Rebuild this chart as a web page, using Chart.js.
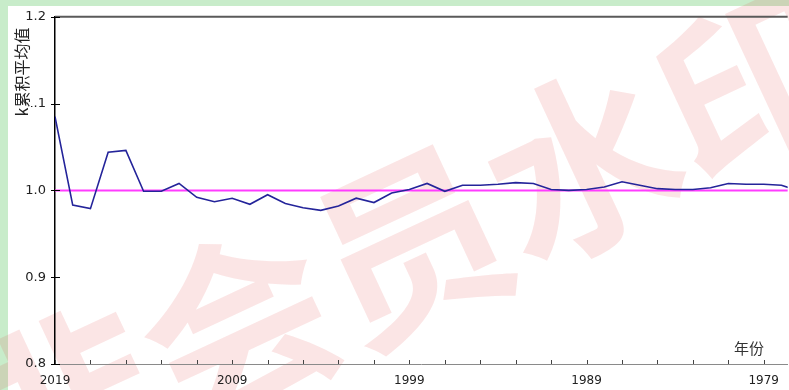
<!DOCTYPE html>
<html>
<head>
<meta charset="utf-8">
<script src="https://cdn.jsdelivr.net/npm/chart.js@4/dist/chart.umd.min.js"></script>
<style>
  html, body { margin: 0; padding: 0; background: #c8ecca; }
  #wrap { width: 789px; height: 390px; }
</style>
</head>
<body>
<div id="wrap"><canvas id="c" width="789" height="390"></canvas></div>
<script>
// Years plotted from right-to-left (newest first)
const YEARS = [2019, 2018, 2017, 2016, 2015, 2014, 2013, 2012, 2011, 2010,
               2009, 2008, 2007, 2006, 2005, 2004, 2003, 2002, 2001, 2000,
               1999, 1998, 1997, 1996, 1995, 1994, 1993, 1992, 1991, 1990,
               1989, 1988, 1987, 1986, 1985, 1984, 1983, 1982, 1981, 1980,
               1979, 1978, 1977];

// Cumulative mean of k for each year
const CUM_MEAN = [1.085, 0.983, 0.979, 1.044, 1.046, 0.999, 0.999, 1.008, 0.992, 0.987,
                  0.991, 0.984, 0.995, 0.985, 0.980, 0.977, 0.982, 0.991, 0.986, 0.997,
                  1.001, 1.008, 0.999, 1.006, 1.006, 1.007, 1.009, 1.008, 1.001, 1.000,
                  1.001, 1.004, 1.010, 1.006, 1.002, 1.001, 1.001, 1.003, 1.008, 1.007,
                  1.007, 1.006, 0.999];

// Tick marks every two years, labels every ten
const TICK_YEARS = [2019, 2017, 2015, 2013, 2011, 2009, 2007, 2005, 2003, 2001,
                    1999, 1997, 1995, 1993, 1991, 1989, 1987, 1985, 1983, 1981, 1979];
const LABEL_YEARS = [2019, 2009, 1999, 1989, 1979];

const Y_TICKS = [0.8, 0.9, 1.0, 1.1, 1.2];
const REFERENCE_LEVEL = 1.0;

const X_MAX = 2019;
const X_MIN = 1977.65;

const Y_TITLE = 'k累积平均值';
const X_TITLE = '年份';
const WATERMARK = '非会员水印';

const pagePlugin = {
  id: 'page',
  beforeDraw(chart) {
    const ctx = chart.ctx;
    ctx.save();
    ctx.fillStyle = '#c8ecca';
    ctx.fillRect(0, 0, chart.width, chart.height);
    ctx.fillStyle = '#ffffff';
    ctx.fillRect(8, 6, chart.width - 8, chart.height - 6);
    // faint diagonal watermark
    ctx.translate(410, 245);
    ctx.rotate(-25 * Math.PI / 180);
    ctx.font = 'bold 190px "Noto Sans CJK SC"';
    ctx.fillStyle = 'rgba(225, 70, 70, 0.14)';
    ctx.textAlign = 'center';
    ctx.textBaseline = 'middle';
    ctx.fillText(WATERMARK, 0, 0);
    ctx.restore();
  },
  beforeDatasetsDraw(chart) {
    const ctx = chart.ctx;
    const { left, right } = chart.chartArea;
    const y = chart.scales.y.getPixelForValue(REFERENCE_LEVEL);
    ctx.save();
    ctx.strokeStyle = '#ff3cff';
    ctx.lineWidth = 2;
    ctx.beginPath();
    ctx.moveTo(left, y);
    ctx.lineTo(right, y);
    ctx.stroke();
    ctx.restore();
  },
  afterDraw(chart) {
    const ctx = chart.ctx;
    const { left, right, top, bottom } = chart.chartArea;
    const xs = chart.scales.x, ys = chart.scales.y;
    ctx.save();
    // frame top edge
    ctx.strokeStyle = '#5a5a5a';
    ctx.lineWidth = 2;
    ctx.beginPath();
    ctx.moveTo(left, top);
    ctx.lineTo(right, top);
    ctx.stroke();
    // x tick marks pointing inward
    ctx.strokeStyle = '#444';
    ctx.lineWidth = 1;
    ctx.beginPath();
    xs.ticks.forEach(t => {
      const x = Math.round(xs.getPixelForValue(t.value)) + 0.5;
      ctx.moveTo(x, bottom - 4);
      ctx.lineTo(x, bottom);
    });
    ctx.stroke();
    // y tick marks across the axis
    ctx.strokeStyle = '#000';
    ctx.beginPath();
    ys.ticks.forEach(t => {
      const y = Math.round(ys.getPixelForValue(t.value)) + 0.5;
      ctx.moveTo(left - 4, y);
      ctx.lineTo(left + 5, y);
    });
    ctx.stroke();
    // y axis title, rotated
    ctx.fillStyle = '#ffffff';
    ctx.fillRect(13, 26, 18, 93);
    ctx.translate(22, 72);
    ctx.rotate(-Math.PI / 2);
    ctx.font = '16px "Noto Sans CJK SC"';
    ctx.fillStyle = '#222';
    ctx.textAlign = 'center';
    ctx.textBaseline = 'middle';
    ctx.fillText(Y_TITLE, 0, 0);
    ctx.restore();
    // x axis title
    ctx.save();
    ctx.font = '15px "Noto Sans CJK SC"';
    ctx.fillStyle = '#333';
    ctx.textAlign = 'center';
    ctx.textBaseline = 'middle';
    ctx.fillText(X_TITLE, 749, 348);
    ctx.restore();
  }
};

new Chart(document.getElementById('c'), {
  type: 'line',
  data: {
    datasets: [{
      data: YEARS.map((yr, i) => ({ x: yr, y: CUM_MEAN[i] })),
      borderColor: '#24249a',
      borderWidth: 1.6,
      pointRadius: 0,
      tension: 0,
      fill: false
    }]
  },
  options: {
    responsive: false,
    animation: false,
    devicePixelRatio: 1,
    layout: { padding: { top: 16, left: 0, right: 0, bottom: 0 } },
    plugins: { legend: { display: false }, tooltip: { enabled: false } },
    scales: {
      x: {
        type: 'linear',
        reverse: true,
        min: X_MIN,
        max: X_MAX,
        grid: { display: false, drawTicks: false },
        border: { display: true, color: '#8a8a8a', width: 1 },
        afterBuildTicks(scale) {
          scale.ticks = TICK_YEARS.map(v => ({ value: v }));
        },
        afterFit(scale) { scale.height = 26; },
        ticks: {
          autoSkip: false,
          maxRotation: 0,
          padding: 10,
          color: '#222',
          font: { family: 'DejaVu Sans', size: 12 },
          callback: v => LABEL_YEARS.includes(v) ? String(v) : ''
        }
      },
      y: {
        min: 0.8,
        max: 1.2,
        grid: { display: false, drawTicks: false },
        border: { display: true, color: '#000', width: 1.5 },
        afterBuildTicks(scale) {
          scale.ticks = Y_TICKS.map(v => ({ value: v }));
        },
        afterFit(scale) { scale.width = 55; },
        ticks: {
          padding: 9,
          color: '#222',
          font: { family: 'DejaVu Sans', size: 13 },
          callback: v => v.toFixed(1)
        }
      }
    }
  },
  plugins: [pagePlugin]
});
</script>
</body>
</html>
